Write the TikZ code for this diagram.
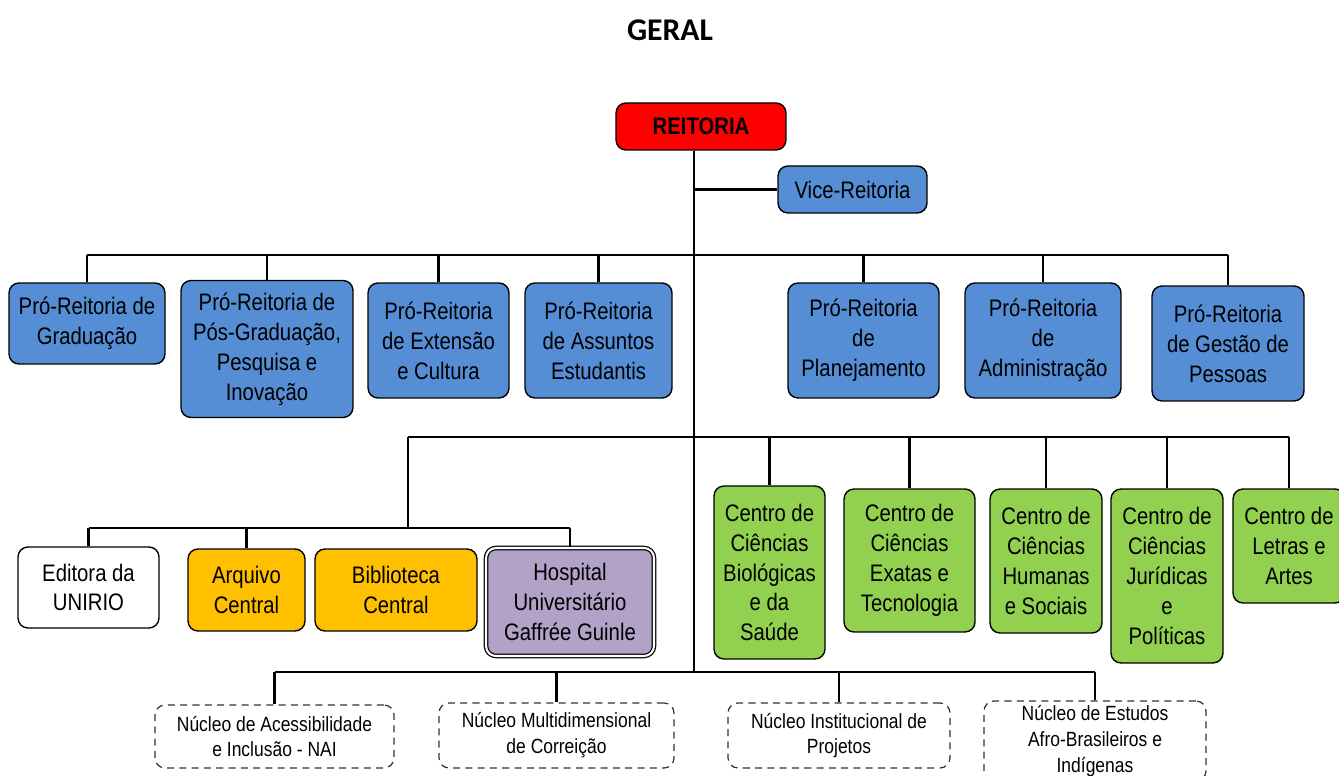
\documentclass[tikz,border=0pt]{standalone}
\usepackage{fontspec}
\setmainfont{Liberation Sans}[FakeStretch=0.85]
\newfontfamily\titlefont{Carlito}
\usetikzlibrary{positioning}
\definecolor{azulpro}{RGB}{85,142,213}
\definecolor{vermelho}{RGB}{255,0,0}
\definecolor{laranja}{RGB}{255,192,0}
\definecolor{lilas}{RGB}{179,162,199}
\definecolor{verde}{RGB}{146,208,80}

\begin{document}
\begin{tikzpicture}[x=0.02cm, y=-0.02cm,
    font=\fontsize{13.6}{17}\selectfont,
    caixa/.style={draw, line width=0.8pt, rounded corners=0.2cm, align=center, inner sep=1pt},
    pro/.style={caixa, fill=azulpro},
    centro/.style={caixa, fill=verde},
    orgao/.style={caixa, fill=laranja},
    nucleo/.style={draw=black!80, line width=0.7pt, dash pattern=on 4pt off 3pt, rounded corners=0.2cm,
      align=center, inner sep=1pt, font=\fontsize{11.7}{14.7}\selectfont},
    ligacao/.style={line width=1.5pt},
    ]

    \useasboundingbox (0,0) rectangle (1339,776);
    \fill[white] (0,0) rectangle (1339,776);
    \clip (0,0) rectangle (1339,776);

    % Title
    \node[font=\titlefont\fontsize{18}{20}\selectfont\bfseries] (titulo) at (670,30) {GERAL};

    % Reitoria and Vice-Reitoria
    \node[caixa, fill=vermelho, font=\fontsize{13.6}{17}\selectfont\bfseries,
      minimum width=3.4cm, minimum height=0.94cm] (reitoria) at (701,126.5) {REITORIA};
    \node[pro, minimum width=2.98cm, minimum height=0.94cm] (vice) at (852.5,189.5) {Vice-Reitoria};

    % Pro-Reitorias
    \node[pro, minimum width=3.12cm, minimum height=1.62cm] (grad) at (87,323.5) {Pró-Reitoria de\\Graduação};
    \node[pro, minimum width=3.44cm, minimum height=2.74cm] (posgrad) at (267,349) {Pró-Reitoria de\\Pós-Graduação,\\Pesquisa e\\Inovação};
    \node[pro, minimum width=2.82cm, minimum height=2.3cm] (ext) at (438.5,340.5) {Pró-Reitoria\\de Extensão\\e Cultura};
    \node[pro, minimum width=2.94cm, minimum height=2.3cm] (assuntos) at (598.5,340.5) {Pró-Reitoria\\de Assuntos\\Estudantis};
    \node[pro, minimum width=3.02cm, minimum height=2.3cm] (plan) at (863.5,340.5) {Pró-Reitoria\\de\\Planejamento};
    \node[pro, minimum width=3.12cm, minimum height=2.3cm] (adm) at (1043,340.5) {Pró-Reitoria\\de\\Administração};
    \node[pro, minimum width=3.04cm, minimum height=2.3cm] (pessoas) at (1228,343.5) {Pró-Reitoria\\de Gestão de\\Pessoas};

    % Orgaos suplementares
    \node[caixa, fill=white, minimum width=2.82cm, minimum height=1.62cm] (editora) at (88.5,587.5) {Editora da\\UNIRIO};
    \node[orgao, minimum width=2.34cm, minimum height=1.64cm] (arquivo) at (246.5,590) {Arquivo\\Central};
    \node[orgao, minimum width=3.24cm, minimum height=1.64cm] (biblioteca) at (396,590) {Biblioteca\\Central};
    \node[caixa, fill=lilas, line width=0.7pt, double=white, double distance=1.2pt,
      minimum width=3.36cm, minimum height=2.16cm] (hospital) at (570,602) {Hospital\\Universitário\\Gaffrée Guinle};

    % Centros
    \node[centro, minimum width=2.22cm, minimum height=3.46cm] (bio) at (769.5,572.5) {Centro de\\Ciências\\Biológicas\\e da\\Saúde};
    \node[centro, minimum width=2.62cm, minimum height=2.86cm] (exatas) at (909.5,560.5) {Centro de\\Ciências\\Exatas e\\Tecnologia};
    \node[centro, minimum width=2.24cm, minimum height=2.88cm] (humanas) at (1046,561) {Centro de\\Ciências\\Humanas\\e Sociais};
    \node[centro, minimum width=2.24cm, minimum height=3.48cm] (juridicas) at (1167,576) {Centro de\\Ciências\\Jurídicas\\e\\Políticas};
    \node[centro, minimum width=2.24cm, minimum height=2.28cm] (letras) at (1289,546) {Centro de\\Letras e\\Artes};

    % Nucleos
    \node[nucleo, minimum width=4.78cm, minimum height=1.26cm] (nai) at (274.5,736.5) {Núcleo de Acessibilidade\\e Inclusão - NAI};
    \node[nucleo, minimum width=4.7cm, minimum height=1.3cm] (multi) at (556.5,735.5) {Núcleo Multidimensional\\de Correição};
    \node[nucleo, minimum width=4.44cm, minimum height=1.3cm] (projetos) at (839,735.5) {Núcleo Institucional de\\Projetos};
    \node[nucleo, minimum width=4.44cm, minimum height=1.6cm] (afro) at (1095,741) {Núcleo de Estudos\\Afro-Brasileiros e\\Indígenas};

    % Junctions
    \coordinate (bus1) at (694,255);
    \coordinate (bus2) at (694,437);
    \coordinate (ramo) at (408,437);
    \coordinate (bus3) at (408,528);
    \coordinate (hub) at (694,672);

    % Trunk and Vice-Reitoria
    \draw[ligacao] (reitoria.south -| hub) -- (hub);
    \draw[ligacao] (vice.west) -- (vice.west -| hub);

    % Pro-Reitorias
    \draw[ligacao] (grad.north |- bus1) -- (pessoas.north |- bus1);
    \foreach \n in {grad, posgrad, ext, assuntos, plan, adm, pessoas} {
      \draw[ligacao] (\n.north |- bus1) -- (\n.north);
    }

    % Centros and orgaos
    \draw[ligacao] (ramo) -- (letras.north |- bus2);
    \foreach \n in {bio, exatas, humanas, juridicas, letras} {
      \draw[ligacao] (\n.north |- bus2) -- (\n.north);
    }
    \draw[ligacao] (ramo) -- (bus3);
    \draw[ligacao] (editora.north |- bus3) -- (hospital.north |- bus3);
    \foreach \n in {editora, arquivo, hospital} {
      \draw[ligacao] (\n.north |- bus3) -- (\n.north);
    }

    % Nucleos
    \draw[ligacao] (nai.north |- hub) -- (afro.north |- hub);
    \foreach \n in {nai, multi, projetos, afro} {
      \draw[ligacao] (\n.north |- hub) -- (\n.north);
    }
  \end{tikzpicture}
\end{document}
